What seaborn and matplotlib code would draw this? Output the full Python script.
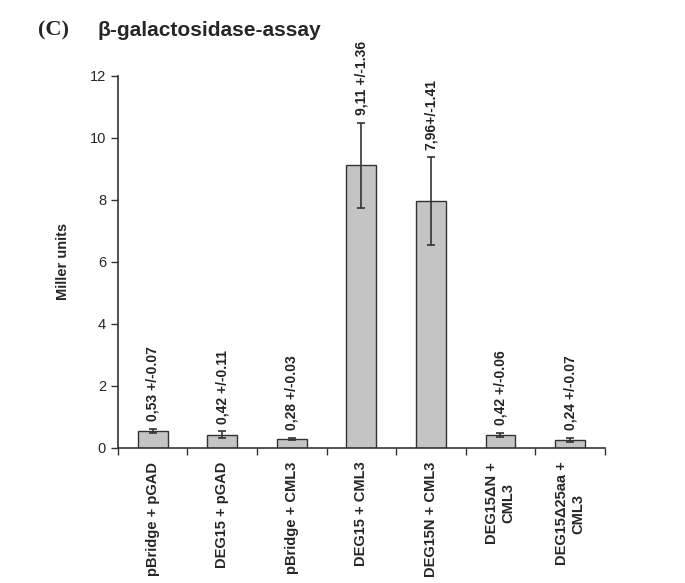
import matplotlib
matplotlib.use("Agg")
import matplotlib.pyplot as plt
import seaborn as sns
import pandas as pd

# ====== data ======
groups = ["pBridge + pGAD", "DEG15 + pGAD", "pBridge + CML3", "DEG15 + CML3",
          "DEG15N + CML3", "DEG15ΔN +\nCML3", "DEG15Δ25aa +\nCML3"]
miller = [0.53, 0.42, 0.28, 9.11, 7.96, 0.42, 0.24]
sd = [0.07, 0.11, 0.03, 1.36, 1.41, 0.06, 0.07]
value_labels = ["0,53 +/-0.07", "0,42 +/-0.11", "0,28 +/-0.03", "9,11 +/-1.36",
                "7,96+/-1.41", "0,42 +/-0.06", "0,24 +/-0.07"]

df = pd.DataFrame({"group": groups, "miller": miller})

sns.set_style("white")
plt.rcParams["font.family"] = ["Liberation Sans", "DejaVu Sans"]

fig = plt.figure(figsize=(6.85, 5.83), dpi=100)
ax = fig.add_axes([0.172, 0.232, 0.711, 0.638])

sns.barplot(data=df, x="group", y="miller", color="#c4c4c4", edgecolor="#333333",
            linewidth=1.0, width=0.43, saturation=1, ax=ax)
ax.errorbar(range(len(groups)), miller, yerr=sd, fmt="none", ecolor="#333333",
            elinewidth=1.2, capsize=3, capthick=1.2)

for i, (m, e, t) in enumerate(zip(miller, sd, value_labels)):
    ax.text(i, m + e + 0.25, t, rotation=90, ha="center", va="bottom",
            fontsize=10, fontweight="bold", color="#222222")

ax.set_xlim(-0.5, 6.5)
ax.set_ylim(0, 12)
ax.set_yticks(range(0, 13, 2))
ax.set_xticks([x - 0.5 for x in range(8)])
ax.set_xticklabels([])
ax.set_xticks(range(7), minor=True)
ax.set_xticklabels(groups, minor=True, rotation=90, fontweight="bold", fontsize=10.5,
                   ha="center", va="top", multialignment="center")
ax.tick_params(axis="x", which="minor", bottom=False, length=0, pad=10)
ax.tick_params(axis="x", which="major", bottom=True, direction="out", length=5,
               width=1, color="#333333")
ax.tick_params(axis="y", left=True, direction="out", length=5, width=1,
               color="#333333", labelsize=10.5)
ax.set_xlabel("")
ax.set_ylabel("Miller units", fontweight="bold", fontsize=10.5, labelpad=14)

sns.despine(ax=ax)
for s in ["left", "bottom"]:
    ax.spines[s].set_color("#333333")
    ax.spines[s].set_linewidth(1.2)

fig.text(0.056, 0.948, "(C)", fontsize=16, fontweight="bold", family="Liberation Serif",
         va="center")
fig.text(0.142, 0.948, "β-galactosidase-assay", fontsize=15, fontweight="bold", va="center")

fig.savefig("out.png", dpi=100)
